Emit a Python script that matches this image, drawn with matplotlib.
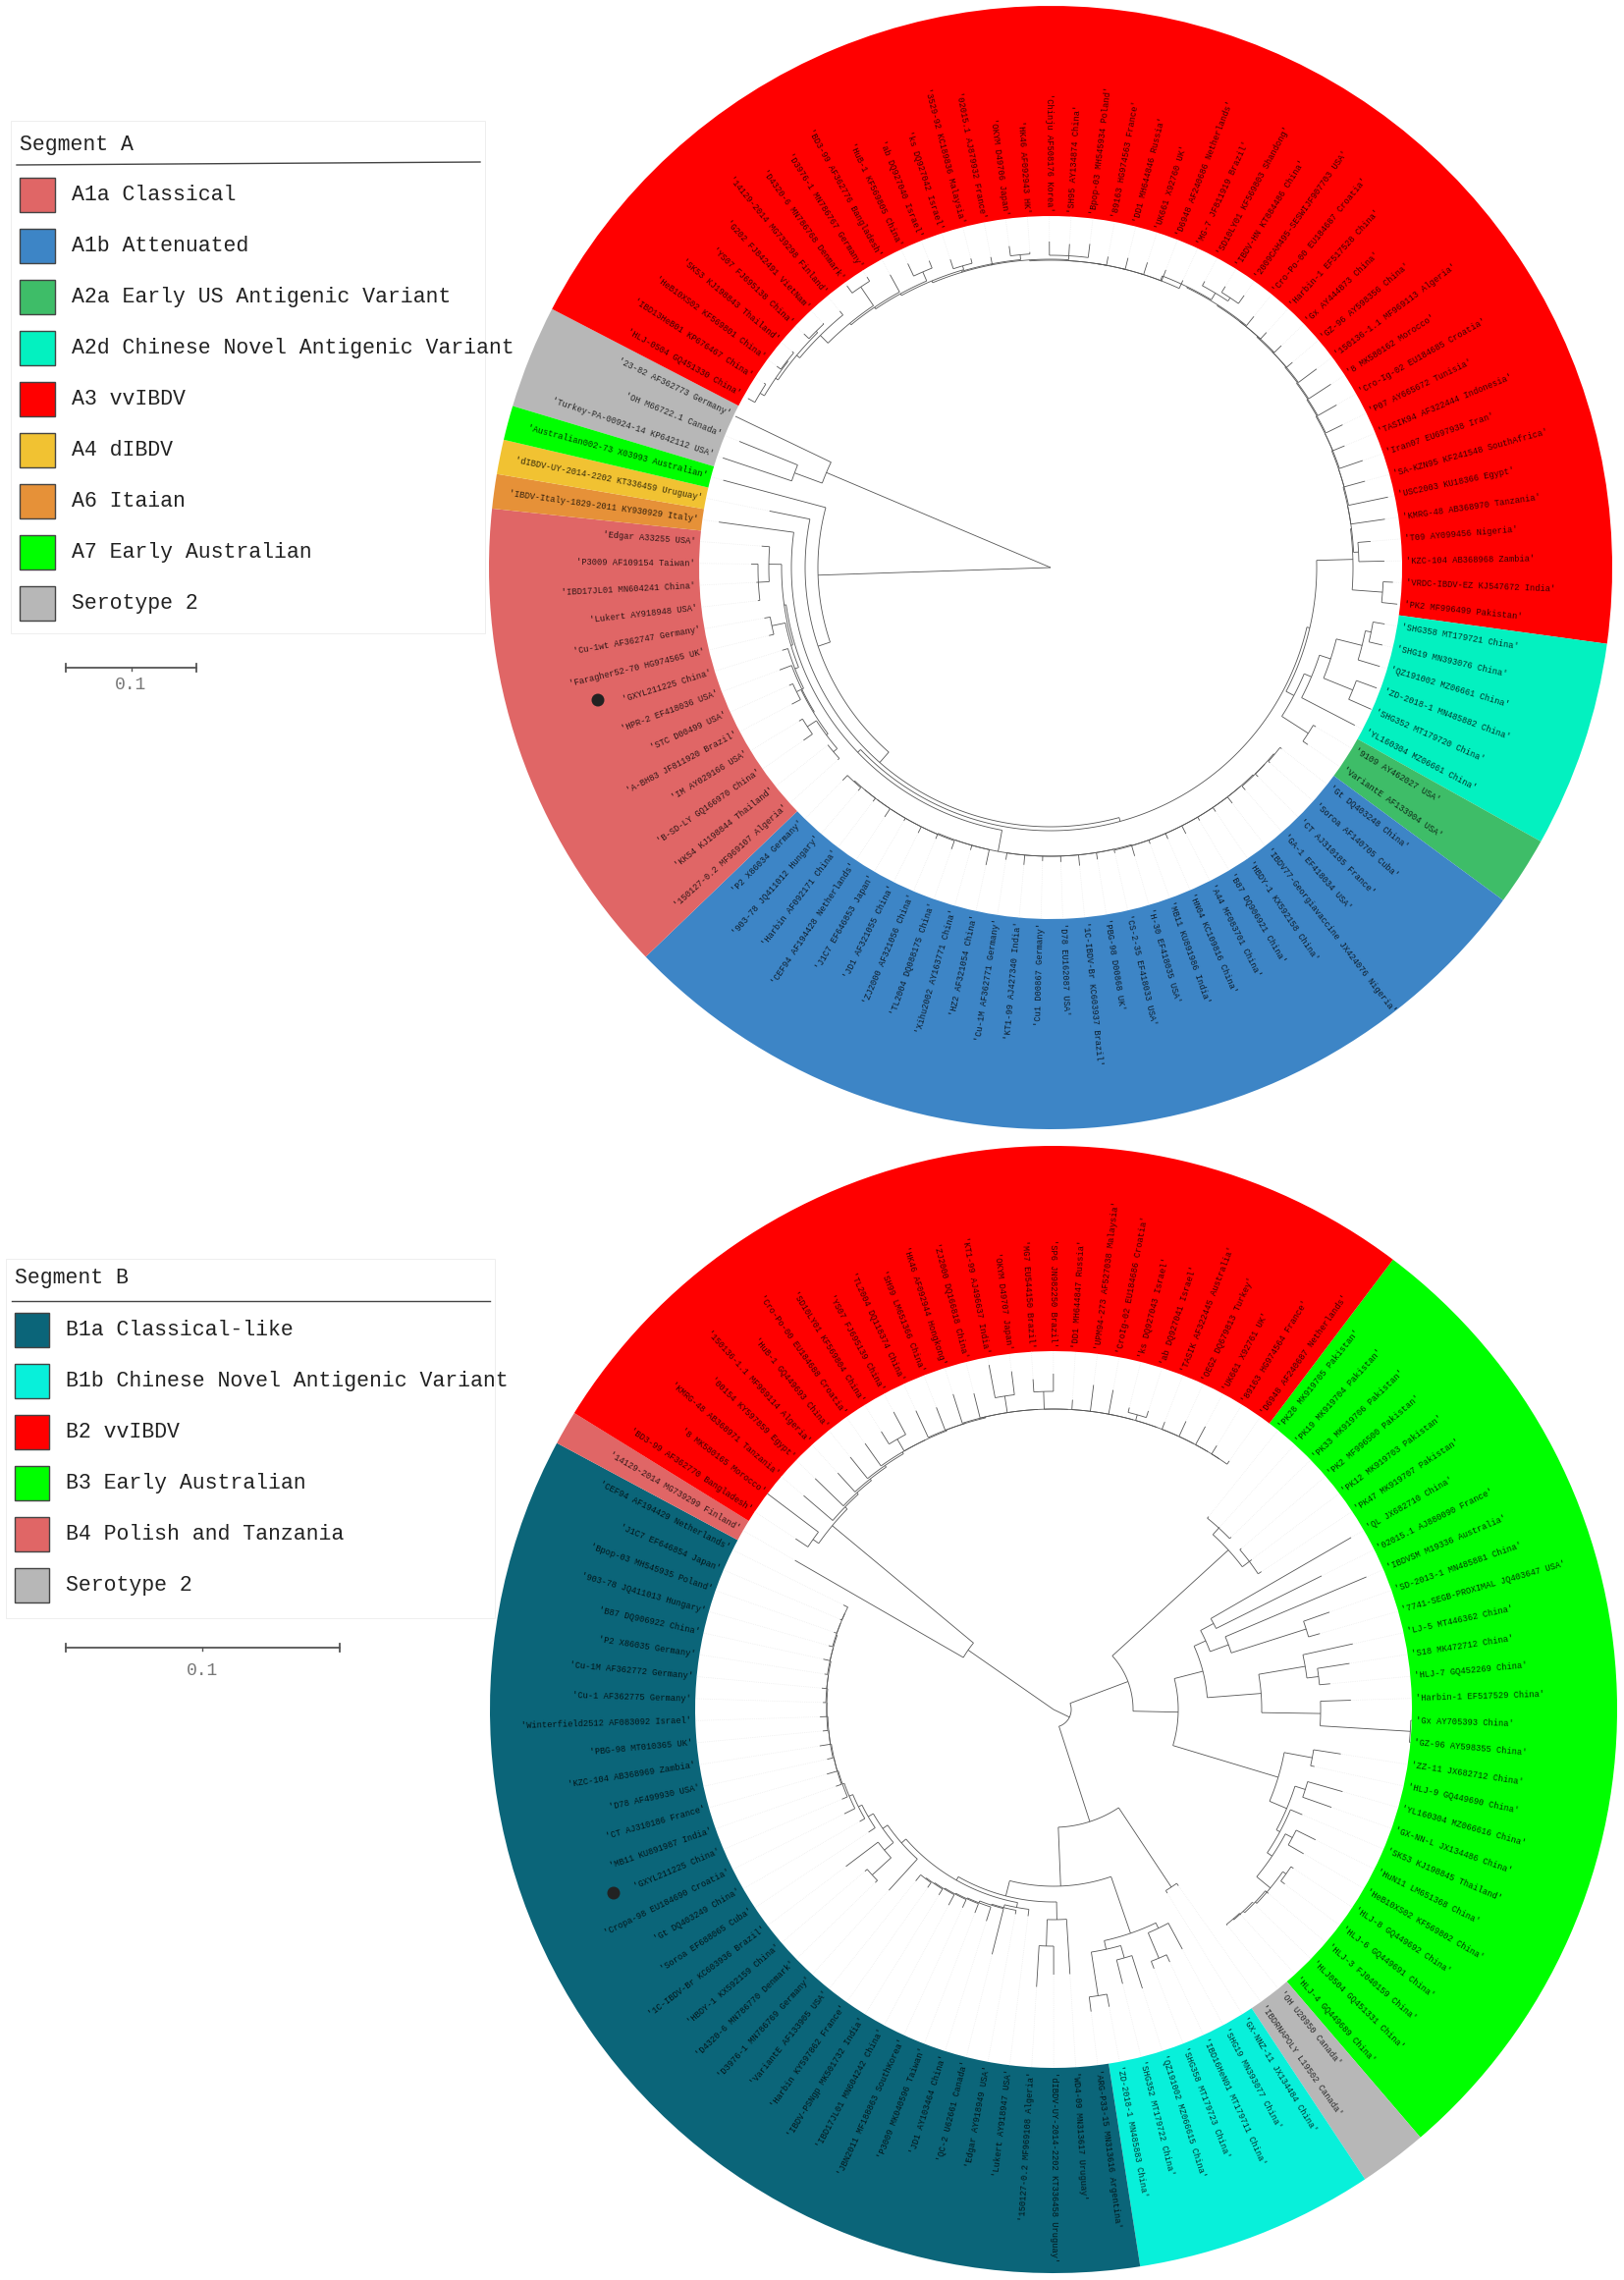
import numpy as np
import matplotlib
matplotlib.use('Agg')
import matplotlib.pyplot as plt
from matplotlib.patches import Wedge, Rectangle, Circle
from matplotlib.collections import LineCollection

plt.rcParams['font.family'] = ['Liberation Mono', 'DejaVu Sans Mono']

W, H = 1654, 2322

# ---- segment A
a_gray = ['Turkey-PA-00924-14 KP642112 USA', 'OH M66722.1 Canada', '23-82 AF362773 Germany']
a_red = ['HLJ-0504 GQ451330 China', 'IBD13HeB01 KP676467 China', 'HeB10XS02 KF569801 China',
         'SK53 KJ198843 Thailand', 'YS07 FJ695138 China', 'G202 FJ842491 VietNam',
         '14129-2014 MG739298 Finland', 'D4320-6 MN786768 Denmark', 'D3976-1 MN786767 Germany',
         'BD3-99 AF362776 Bangladesh', 'HuB-1 KF569805 China', 'ab DQ927040 Israel',
         'ks DQ927042 Israel', '3529-92 KC189836 Malaysia', '02015.1 AJ879932 France',
         'OKYM D49706 Japan', 'HK46 AF092943 HK', 'Chinju AF508176 Korea', 'SH95 AY134874 China',
         'Bpop-03 MH545934 Poland', '89163 HG974563 France', 'DD1 MH644846 Russia',
         'UK661 X92760 UK', 'D6948 AF240686 Netherlands', 'MG-7 JF811919 Brazil',
         'SD10LY01 KF569803 Shandong', 'IBDV-HN KT884486 China', '2009CAH495-SESWIJF907703 USA',
         'Cro-Po-00 EU184687 Croatia', 'Harbin-1 EF517528 China', 'Gx AY444873 China',
         'GZ-96 AY598356 China', '150136-1.1 MF969113 Algeria', '8 MK580162 Morocco',
         'Cro-Ig-02 EU184685 Croatia', 'P07 AY665672 Tunisia', 'TASIK94 AF322444 Indonesia',
         'Iran07 EU697938 Iran', 'SA-KZN95 KF241548 SouthAfrica', 'USC2003 KU18366 Egypt',
         'KMRG-48 AB368970 Tanzania', 'T09 AY099456 Nigeria', 'KZC-104 AB368968 Zambia',
         'VRDC-IBDV-EZ KJ547672 India', 'PK2 MF996499 Pakistan']
a_teal = ['SHG358 MT179721 China', 'SHG19 MN393076 China', 'QZ191002 MZ06661 China',
          'ZD-2018-1 MN485882 China', 'SHG352 MT179720 China', 'YL160304 MZ06661 China']
a_green = ['9109 AY462027 USA', 'VariantE AF133904 USA']
a_blue = ['Gt DQ403248 China', 'Soroa AF140705 Cuba', 'CT AJ310185 France', 'GA-1 EF418034 USA',
          'IBDV77-Georgiavaccine JX424076 Nigeria', 'HBDY-1 KX592158 China', 'B87 DQ906921 China',
          'A44 MF083701 China', 'HN04 KC109816 China', 'MB11 KU891986 India', 'H-30 EF418035 USA',
          'CS-2-35 EF418033 USA', 'PBG-98 D00868 UK', '1C-IBDV-Br KC603937 Brazil',
          'D78 EU162087 USA', 'Cu1 D00867 Germany', 'KT1-99 AJ427340 India',
          'Cu-1M AF362771 Germany', 'HZ2 AF321054 China', 'Xihu2002 AY163771 China',
          'TL2004 DQ088175 China', 'ZJ2000 AF321056 China', 'JD1 AF321055 China',
          'J1C7 EF646853 Japan', 'CEF94 AF194428 Netherlands', 'Harbin AF092171 China',
          '903-78 JQ411012 Hungary', 'P2 X86034 Germany']
a_salmon = ['150127-0.2 MF969107 Algeria', 'KK54 KJ198844 Thailand', 'B-SD-LY GQ166970 China',
            'IM AY029166 USA', 'A-BH83 JF811920 Brazil', 'STC D00499 USA', 'HPR-2 EF418036 USA',
            'GXYL211225 China', 'Faragher52-70 HG974565 UK', 'Cu-1wt AF362747 Germany',
            'Lukert AY918948 USA', 'IBD17JL01 MN604241 China', 'P3009 AF109154 Taiwan',
            'Edgar A33255 USA']
a_orange = ['IBDV-Italy-1829-2011 KY930929 Italy']
a_yellow = ['dIBDV-UY-2014-2202 KT336459 Uruguay']
a_lime = ['Australian002-73 X03993 Australian']

# ---- segment B
b_lime = ['PK28 MK919705 Pakistan', 'PK19 MK919704 Pakistan', 'PK33 MK919706 Pakistan',
          'PK2 MF996500 Pakistan', 'PK12 MK919703 Pakistan', 'PK47 MK919707 Pakistan',
          'QL JX682710 China', '02015.1 AJ880090 France', 'IBDVSM M19336 Australia',
          'SD-2013-1 MN485881 China', '7741-SEGB-PROXIMAL JQ403647 USA', 'LJ-5 MT446362 China',
          'S18 MK472712 China', 'HLJ-7 GQ452269 China', 'Harbin-1 EF517529 China',
          'Gx AY705393 China', 'GZ-96 AY598355 China', 'ZZ-11 JX682712 China',
          'HLJ-9 GQ449690 China', 'YL160304 MZ066616 China', 'GX-NN-L JX134486 China',
          'SK53 KJ198845 Thailand', 'HuN11 LM651368 China', 'HeB10XS02 KF569802 China',
          'HLJ-8 GQ449692 China', 'HLJ-6 GQ449691 China', 'HLJ-3 FJ040159 China',
          'HLJ0504 GQ451331 China', 'HLJ-4 GQ449689 China']
b_gray = ['OH U20950 Canada', 'IBDRNAPOLY L19502 Canada']
b_cyan = ['GX-NNZ-11 JX134484 China', 'SHG19 MN393077 China', 'IBD16HeN01 MT179711 China',
          'SHG358 MT179723 China', 'QZ191002 MZ066615 China', 'SHG352 MT179722 China',
          'ZD-2018-1 MN485883 China']
b_dark = ['ARG-P33-15 MN313616 Argentina', 'WD4-09 MN313617 Uruguay',
          'dIBDV-UY-2014-2202 KT336458 Uruguay', '150127-0.2 MF969108 Algeria',
          'Lukert AY918947 USA', 'Edgar AY918949 USA', 'QC-2 U62661 Canada', 'JD1 AY103464 China',
          'P3009 MK040596 Taiwan', 'JBN2011 MF188863 SouthKorea', 'IBD17JL01 MN604242 China',
          'IBDV-PSNgp MK501732 India', 'Harbin KY597862 France', 'VariantE AF133905 USA',
          'D3976-1 MN786769 Germany', 'D4320-6 MN786770 Denmark', 'HBDY-1 KX592159 China',
          '1C-IBDV-Br KC603936 Brazil', 'Soroa EF688065 Cuba', 'Gt DQ403249 China',
          'Cropa-98 EU184690 Croatia', 'GXYL211225 China', 'MB11 KU891987 India',
          'CT AJ310186 France', 'D78 AF499930 USA', 'KZC-104 AB368969 Zambia',
          'PBG-98 MT010365 UK', 'Winterfield2512 AF083092 Israel', 'Cu-1 AF362775 Germany',
          'Cu-1M AF362772 Germany', 'P2 X86035 Germany', 'B87 DQ906922 China',
          '903-78 JQ411013 Hungary', 'Bpop-03 MH545935 Poland', 'J1C7 EF646854 Japan',
          'CEF94 AF194429 Netherlands']
b_salmon = ['14129-2014 MG739299 Finland']
b_red = ['BD3-99 AF362770 Bangladesh', '8 MK580165 Morocco', 'KMRG-48 AB368971 Tanzania',
         '00154 KY597859 Egypt', '150136-1.1 MF969114 Algeria', 'HuB-1 GQ449693 China',
         'Cro-Po-00 EU184688 Croatia', 'SD10LY01 KF569804 China', 'YS07 FJ695139 China',
         'TL2004 DQ118374 China', 'SH99 LM651366 China', 'HK46 AF092944 Hongkong',
         'ZJ2000 DQ166818 China', 'KT1-99 AJ496637 India', 'OKYM D49707 Japan',
         'MG7 EU544150 Brazil', 'SP6 JN982250 Brazil', 'DD1 MH644847 Russia',
         'UPM94-273 AF527038 Malaysia', 'CroIg-02 EU184686 Croatia', 'ks DQ927043 Israel',
         'ab DQ927041 Israel', 'TASIK AF322445 Australia', 'OEG2 DQ679813 Turkey',
         'UK661 X92761 UK', '89163 HG974564 France', 'D6948 AF240687 Netherlands']

RED, LIME, SALMON, GRAY = '#ff0000', '#00ff00', '#e06666', '#b7b7b7'
BLUE, DGREEN, TEAL = '#3d85c6', '#3ebd68', '#03f1c0'
YELLOW, ORANGE, DARK, CYAN = '#f1c232', '#e69138', '#0b6579', '#08f0da'

clades_a = [(a_gray, GRAY), (a_red, RED), (a_teal, TEAL), (a_green, DGREEN), (a_blue, BLUE),
            (a_salmon, SALMON), (a_orange, ORANGE), (a_yellow, YELLOW), (a_lime, LIME)]
clades_b = [(b_lime, LIME), (b_gray, GRAY), (b_cyan, CYAN), (b_dark, DARK), (b_salmon, SALMON),
            (b_red, RED)]

legend_a = [('A1a Classical', SALMON), ('A1b Attenuated', BLUE), ('A2a Early US Antigenic Variant', DGREEN),
            ('A2d Chinese Novel Antigenic Variant', TEAL), ('A3 vvIBDV', RED), ('A4 dIBDV', YELLOW),
            ('A6 Itaian', ORANGE), ('A7 Early Australian', LIME), ('Serotype 2', GRAY)]
legend_b = [('B1a Classical-like', DARK), ('B1b Chinese Novel Antigenic Variant', CYAN), ('B2 vvIBDV', RED),
            ('B3 Early Australian', LIME), ('B4 Polish and Tanzania', SALMON), ('Serotype 2', GRAY)]


def comb(last, steps, sub_first=False):
    # steps go from the deep end to the node nearest the root: (node radius, side branch)
    node = last
    for r, sub in steps:
        node = [r, sub, node] if sub_first else [r, node, sub]
    return node


# trees: [node radius, child, child...], a plain number is a tip radius, order = label order
red_a = comb([345, 353, 347], [
    (340, [341, 346, 343]), (337, [339, 346, 340]), (333, 338), (322, [345, 354, 350]),
    (320, 340), (318, [328, 342, 336]), (316, [320, 330, 325]), (314, 322), (315, [320, 330, 322]),
    (314, [318, 332, 330, 332]), (313, 322), (313, 325), (313, 326), (313, 325), (313, 322),
    (318, [326, 331, [330, 337, 340]]), (317, 329), (316, 325), (316, 326), (315, 323), (315, 338),
    (314, 341), (313, 335), (312, 331), (311, 324), (311, 336), (310, 332), (310, 351), (309, 344),
    (309, [314, 327, 340])])
R_a = [308, red_a, [339, 349, 355]]
teal_a = [288, [300, [327, [333, 345, 347], 350], [332, 354, 357]], 349]
Y_a = [280, teal_a, [312, 315, 318]]
D_a = [271, R_a, Y_a]
blue_right = comb([297, 299, 299], [(296, 300), (296, 301), (295, 303), (295, 300), (295, 299),
                                    (295, 304), (295, 301), (295, 299), (295, 306), (295, 298),
                                    (294, 301), (294, 305), (294, 300), (294, 299), (294, 304),
                                    (294, 301)])
blue_left = comb([296, 300, 303], [(295, 299), (295, 305), (295, 298), (295, 302), (295, 300),
                                   (295, 304), (294, 299), (294, 310)], sub_first=True)
blue_a = [294, blue_right, blue_left]
sal_low = [283, [285, [290, 292, 290], [296, 307, 300]], [288, 298, 292]]
sal_c = [280, [282, sal_low, 295], 286]
sal_b = [276, sal_c, [290, 295, 296]]
sal_a = [274, sal_b, [287, [298, 300, 300, 305], 295]]
E_a = [272, blue_a, sal_a]
C_a = [268, D_a, E_a]
N3_a = [264, C_a, 341]
N2_a = [250, N3_a, 292]
N1_a = [237, N2_a, 345]
tree_a = [0, [248, [278, 352, 342], 356], N1_a]

pak_b = [241, [250, 252, 251, 252], [250, 252, 253, 254]]
g1_b = [157, [170, [185, 350, 305], [190, 346, [270, 298, 282]]],
        [212, [260, 312, [272, 305, 283]], [272, 303, [364, 365, 365]]]]
tail_b = comb([281, 283, 282], [(282, 283), (284, 288), (286, [290, 293, 295])], sub_first=True)
g2_b = [239, [268, 296, 272], [258, [269, 306, 300], [262, 275, [268, [276, 298, 294], tail_b]]]]
q_b = [81, pak_b, [127, g1_b, g2_b]]
gray_b = [217, 220, 220]
cyan_b = [241, [247, 277, [275, 283, 283]], [250, [263, 298, 288], [295, 308, 310]]]
arm_b = [214, 270, [241, 270, 283]]
k3_b = [205, 212, comb([216, 222, 224], [(215, 222), (214, 226), (213, 222), (212, 222), (211, 226),
                                         (209, 257), (208, 212)], sub_first=True)]
rest_b = comb([234, 236, 239], [(234, 237), (234, 238), (233, 240), (233, 236), (232, 237),
                                (232, 235), (231, 238), (231, 236), (230, 241), (230, 236),
                                (229, 240), (229, 235), (228, 234), (226, 238), (222, 228),
                                (218, 226)], sub_first=True)
k2_b = [206, 249, [212, [224, [250, 253, 253], 265], rest_b]]
dark_b = [196, arm_b, [200, k3_b, k2_b]]
bot_b = [120, gray_b, [180, cyan_b, dark_b]]
x_b = [18, q_b, bot_b]
red_b = comb([306, 316, 310], [
    (306, 327), (306, 323), (306, 314), (306, [312, 317, 319]), (306, 331), (306, 333), (306, 316),
    (306, [324, 337, 342]), (306, [323, 357, 347]), (306, 332), (306, 337), (305, 330), (305, 335),
    (304, [318, 333, 344]), (304, 332), (302, 330), (300, 326), (298, 338), (296, 335)], sub_first=True)
p_b = [106, 304, [293, [300, 315, 365], red_b]]
tree_b = [0, x_b, p_b]


def polar(cx, cy, r, th):
    t = np.radians(th)
    return cx + r * np.cos(t), cy + r * np.sin(t)


def draw_ring(ax, cx, cy, r_out, r_hole, start, clades, tree):
    names = [n for c in clades for n in c[0]]
    step = 360.0 / len(names)
    # sectors
    i = 0
    for group, col in clades:
        t1 = start + (i - 0.5) * step
        t2 = start + (i + len(group) - 0.5) * step
        ax.add_patch(Wedge((cx, cy), r_out, t1, t2, width=r_out - r_hole, fc=col, ec='none', zorder=1))
        i += len(group)
    # tree lines
    segs = []
    dots = []
    count = [0]

    def walk(node, parent_r):
        if not isinstance(node, list):
            th = start + count[0] * step
            count[0] += 1
            segs.append([polar(cx, cy, parent_r, th), polar(cx, cy, node, th)])
            dots.append([polar(cx, cy, node, th), polar(cx, cy, r_hole, th)])
            return th
        r = node[0]
        ths = [walk(k, r) for k in node[1:]]
        tt = np.linspace(ths[0], ths[-1], max(2, int(abs(ths[-1] - ths[0])) * 2 + 2))
        segs.append([polar(cx, cy, r, t) for t in tt])
        th = (ths[0] + ths[-1]) / 2
        segs.append([polar(cx, cy, parent_r, th), polar(cx, cy, r, th)])
        return th

    walk(tree, 0)
    assert count[0] == len(names), (count[0], len(names))
    ax.add_collection(LineCollection(dots, colors='#e8e8e8', linewidths=0.5, linestyles=':', zorder=2))
    ax.add_collection(LineCollection(segs, colors='#555555', linewidths=0.6, zorder=3))
    # tip labels
    for i, name in enumerate(names):
        th = start + i * step
        x, y = polar(cx, cy, r_hole + 4, th)
        if np.cos(np.radians(th)) >= 0:
            rot, ha = -th, 'left'
        else:
            rot, ha = 180 - th, 'right'
        ax.text(x, y, "'" + name + "'", fontsize=6.3, rotation=rot, rotation_mode='anchor',
                ha=ha, va='center', color='black', alpha=0.78, zorder=4)


def draw_legend(ax, x0, x1, y0, y1, title, title_y, rule_y, rule_x, entries, patch_x, patch_w, patch_h,
                first_y, text_x):
    ax.add_patch(Rectangle((x0, y0), x1 - x0, y1 - y0, fc='white', ec='#eeeeee', lw=0.7, zorder=5))
    ax.text(patch_x, title_y, title, fontsize=15.5, va='center', ha='left', color='#222222', zorder=6)
    ax.plot(rule_x, rule_y, color='#444444', lw=1.0, zorder=6)
    for k, (lab, col) in enumerate(entries):
        y = first_y + 52 * k
        ax.add_patch(Rectangle((patch_x, y), patch_w, patch_h, fc=col, ec='#444444', lw=1.0, zorder=6))
        ax.text(text_x, y + patch_h / 2, lab, fontsize=15.5, va='center', ha='left', color='#222222', zorder=6)


def draw_scale(ax, x0, x1, y, label_y):
    c = '#555555'
    ax.plot([x0, x1], [y, y], color=c, lw=1.3)
    for x in (x0, x1):
        ax.plot([x, x], [y - 4, y + 4], color=c, lw=1.3)
    ax.plot([(x0 + x1) / 2] * 2, [y, y + 3], color=c, lw=1.0)
    ax.text((x0 + x1) / 2, label_y, '0.1', fontsize=13, ha='center', va='center', color='#777777')


fig = plt.figure(figsize=(W / 100, H / 100), dpi=100)
ax = fig.add_axes([0, 0, 1, 1])
ax.set_xlim(0, W)
ax.set_ylim(H, 0)
ax.axis('off')

draw_ring(ax, 1070, 578, 572, 358, 198.5, clades_a, tree_a)
draw_ring(ax, 1073, 1741, 574, 365, -51.2, clades_b, tree_b)

draw_legend(ax, 11, 494, 123, 645, 'Segment A', 147, [168, 165], [17, 489], legend_a, 20, 35.5, 35, 181, 73)
draw_legend(ax, 6, 504, 1282, 1648, 'Segment B', 1302, [1325, 1325], [12, 499], legend_b, 15, 35, 35, 1337, 67)
draw_scale(ax, 67, 200, 680, 698)
draw_scale(ax, 67, 345.5, 1678, 1701)

ax.add_patch(Circle((609, 713), 6.5, fc='#222222', ec='none', zorder=7))
ax.add_patch(Circle((625, 1928), 6.5, fc='#222222', ec='none', zorder=7))

fig.savefig('out.png', dpi=100, facecolor='white')
